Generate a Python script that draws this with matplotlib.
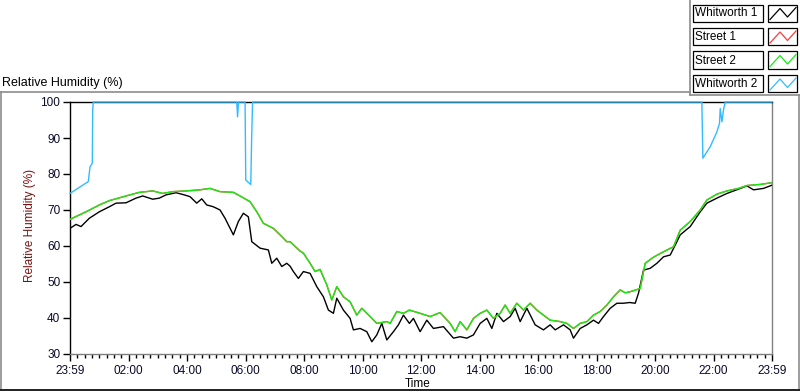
import matplotlib
matplotlib.use("Agg")
import matplotlib.pyplot as plt
from matplotlib.lines import Line2D
from matplotlib.patches import Rectangle

plt.rcParams['font.family'] = ['Liberation Sans', 'DejaVu Sans']

# ---------------- data (hours since start, relative humidity %) ----------------
series_names = ["Whitworth 1", "Street 1", "Street 2", "Whitworth 2"]
series_colors = ["#000000", "#ff3b3b", "#11ee11", "#33bbff"]

tick_hours = [0, 2, 4, 6, 8, 10, 12, 14, 16, 18, 20, 22, 24]
tick_labels = ["23:59", "02:00", "04:00", "06:00", "08:00", "10:00", "12:00",
               "14:00", "16:00", "18:00", "20:00", "22:00", "23:59"]
y_ticks = [30, 40, 50, 60, 70, 80, 90, 100]

street2_t = [0.0, 0.547, 1.002, 1.344, 1.915, 2.370, 2.828, 3.170, 3.512, 3.967,
             4.446, 4.788, 5.130, 5.585, 5.814, 6.156, 6.385, 6.611, 6.953, 7.182,
             7.411, 7.524, 7.866, 7.979, 8.208, 8.379, 8.550, 8.779, 8.950, 9.121,
             9.347, 9.576, 9.805, 9.976, 10.260, 10.489, 10.831, 10.944, 11.173, 11.399,
             11.604, 11.970, 12.312, 12.654, 12.996, 13.167, 13.338, 13.567, 13.793, 14.022,
             14.251, 14.477, 14.706, 14.877, 15.048, 15.277, 15.503, 15.732, 15.961, 16.187,
             16.416, 16.758, 16.987, 17.213, 17.442, 17.671, 17.897, 18.126, 18.355, 18.581,
             18.810, 18.981, 19.152, 19.494, 19.665, 19.949, 20.291, 20.633, 20.862, 21.204,
             21.546, 21.775, 22.117, 22.459, 22.856, 23.143, 23.598, 24.0]
street2_v = [67.4, 69.5, 71.4, 72.6, 73.9, 74.9, 75.3, 74.6, 75.1, 75.3,
             75.6, 76.0, 75.1, 74.9, 73.9, 72.3, 69.5, 66.3, 64.9, 63.1,
             61.2, 61.2, 58.6, 58.0, 55.2, 52.9, 53.5, 49.2, 45.0, 48.7,
             45.9, 44.5, 40.8, 42.7, 40.4, 38.5, 39.0, 38.5, 41.8, 41.3,
             42.2, 41.3, 40.4, 41.5, 38.5, 36.2, 39.0, 36.7, 39.9, 41.3,
             42.2, 39.9, 41.3, 43.6, 41.3, 44.1, 42.2, 44.1, 42.2, 40.8,
             39.4, 39.0, 38.5, 37.1, 38.5, 39.0, 40.8, 41.8, 43.6, 45.9,
             47.8, 47.0, 47.3, 48.2, 55.2, 56.9, 58.4, 59.8, 64.4, 66.8,
             70.0, 72.8, 74.4, 75.3, 76.0, 76.8, 77.1, 77.6]

# Street 1 lies underneath Street 2 over the whole day
street1_t = list(street2_t)
street1_v = list(street2_v)

whit1_t = [0.0, 0.205, 0.376, 0.660, 1.002, 1.344, 1.573, 1.915, 2.257, 2.486,
           2.828, 3.054, 3.283, 3.625, 3.909, 4.104, 4.333, 4.504, 4.675, 4.901,
           5.130, 5.301, 5.585, 5.756, 5.927, 6.098, 6.214, 6.498, 6.782, 6.898,
           7.069, 7.240, 7.411, 7.524, 7.637, 7.808, 7.979, 8.208, 8.437, 8.663,
           8.834, 9.005, 9.121, 9.347, 9.576, 9.689, 9.918, 10.147, 10.318, 10.489,
           10.660, 10.831, 11.057, 11.228, 11.399, 11.604, 11.741, 11.970, 12.199, 12.425,
           12.767, 13.109, 13.338, 13.567, 13.793, 14.022, 14.251, 14.422, 14.593, 14.819,
           15.048, 15.219, 15.390, 15.619, 15.903, 16.187, 16.416, 16.587, 16.871, 17.100,
           17.213, 17.442, 17.671, 17.897, 18.068, 18.239, 18.468, 18.697, 18.923, 19.128,
           19.323, 19.436, 19.607, 19.836, 20.065, 20.291, 20.520, 20.749, 20.862, 21.204,
           21.546, 21.775, 22.117, 22.459, 22.856, 23.143, 23.369, 23.711, 24.0]
whit1_v = [64.9, 66.0, 65.4, 67.7, 69.5, 70.9, 71.9, 72.0, 73.3, 73.9,
           73.0, 73.3, 74.2, 74.8, 74.2, 73.7, 71.9, 73.1, 71.4, 70.9,
           70.0, 67.7, 63.1, 66.8, 69.1, 68.1, 61.2, 59.4, 58.9, 55.2,
           56.6, 54.3, 55.2, 54.4, 52.9, 51.0, 52.9, 52.4, 48.7, 45.9,
           42.2, 41.3, 45.5, 42.2, 39.9, 36.7, 37.1, 36.2, 33.4, 35.3,
           38.5, 33.9, 36.2, 38.1, 40.8, 38.5, 39.9, 36.2, 39.4, 37.1,
           37.6, 34.4, 34.8, 34.4, 35.3, 38.5, 39.9, 37.1, 41.3, 39.0,
           40.4, 42.7, 39.0, 42.7, 38.1, 36.7, 38.1, 36.7, 38.1, 36.7,
           34.4, 37.1, 38.1, 39.4, 38.5, 40.4, 42.7, 44.1, 44.1, 44.3,
           44.1, 46.9, 53.3, 53.8, 55.2, 57.0, 57.5, 61.2, 63.1, 65.4,
           69.5, 71.9, 73.3, 74.6, 75.8, 76.7, 75.6, 76.0, 76.9]

whit2_t = [0.0, 0.626, 0.684, 0.763, 0.776, 0.797, 5.701, 5.728, 5.763, 5.985,
           6.009, 6.180, 6.207, 6.241, 21.602, 21.636, 21.888, 22.116, 22.206, 22.230,
           22.288, 22.342, 22.400, 24.0]
whit2_v = [74.6, 77.9, 82.0, 83.0, 97.8, 100.0, 100.0, 95.9, 100.0, 100.0,
           78.3, 77.1, 88.6, 100.0, 100.0, 84.4, 87.6, 91.7, 94.1, 98.2,
           94.5, 97.8, 100.0, 100.0]

series_t = [whit1_t, street1_t, street2_t, whit2_t]
series_v = [whit1_v, street1_v, street2_v, whit2_v]

# ---------------- figure ----------------
W, H = 800, 392
fig = plt.figure(figsize=(W / 100, H / 100), dpi=100)


def fx(px):
    return px / W


def fy(py):
    return 1 - py / H


ax = fig.add_axes([fx(70), fy(354), fx(772) - fx(70), fy(102) - fy(354)])

draw_order = [1, 2, 0, 3]
for i in draw_order:
    ax.plot(series_t[i], series_v[i], color=series_colors[i], lw=1.0,
            clip_on=(i != 3), zorder=3 + i)

ax.set_xlim(0, 24)
ax.set_ylim(30, 100)
ax.set_xticks(tick_hours)
ax.set_xticklabels(tick_labels)
ax.set_xticks([h / 4 for h in range(0, 97)], minor=True)
ax.set_yticks(y_ticks)
ax.tick_params(axis='x', which='major', length=5, width=1, labelsize=8.5,
               colors='#000000', pad=3, direction='out')
ax.tick_params(axis='x', which='minor', length=3, width=1, direction='out')
ax.tick_params(axis='y', which='major', length=5, width=1, labelsize=8.5,
               direction='out', pad=2)
for lab in ax.get_xticklabels() + ax.get_yticklabels():
    lab.set_color('#0a0a2a')

ax.spines['left'].set_color('#000000')
ax.spines['top'].set_color('#000000')
ax.spines['right'].set_color('#808080')
ax.spines['bottom'].set_color('#808080')
for s in ax.spines.values():
    s.set_linewidth(1.0)

# axis labels
fig.text(fx(30), fy(225), "Relative Humidity (%)", rotation=90, ha='center',
         va='center', fontsize=8.5, color='#7a1010')
fig.text(fx(418), fy(384), "Time", ha='center', va='center', fontsize=8.5)
fig.text(fx(2), fy(83), "Relative Humidity (%)", ha='left', va='center',
         fontsize=9)

# panel frame lines
frame_grey = '#8c8c8c'
fig.add_artist(Line2D([fx(0), fx(690)], [fy(92), fy(92)], color=frame_grey, lw=1.2))
fig.add_artist(Line2D([fx(690), fx(690)], [fy(0), fy(95)], color=frame_grey, lw=1.2))
fig.add_artist(Line2D([fx(690), fx(800)], [fy(95), fy(95)], color=frame_grey, lw=1.2))
fig.add_artist(Line2D([fx(0.6), fx(0.6)], [fy(92), fy(390)], color=frame_grey, lw=1.2))
fig.add_artist(Line2D([fx(799.4), fx(799.4)], [fy(95), fy(390)], color=frame_grey, lw=1.2))
fig.add_artist(Line2D([fx(0), fx(800)], [fy(390), fy(390)], color='#202020', lw=1.4))

# legend (LabVIEW style plot legend)
row_tops = [4.5, 28, 51.5, 75]
for i, name in enumerate(series_names):
    top = row_tops[i]
    h = 17
    fig.add_artist(Rectangle((fx(692.5), fy(top + h)), fx(763) - fx(692.5), fy(top) - fy(top + h),
                             facecolor='white', edgecolor='black', lw=0.9))
    fig.add_artist(Rectangle((fx(767.5), fy(top + h)), fx(797) - fx(767.5), fy(top) - fy(top + h),
                             facecolor='white', edgecolor='black', lw=0.9))
    fig.text(fx(695), fy(top + h / 2 + 0.5), name, ha='left', va='center', fontsize=8.5)
    zx = [770, 780, 787.5, 796]
    zy = [top + 15, top + 4, top + 12.5, top + 3]
    fig.add_artist(Line2D([fx(v) for v in zx], [fy(v) for v in zy],
                          color=series_colors[i], lw=0.9))

fig.savefig("out.png", dpi=100)
